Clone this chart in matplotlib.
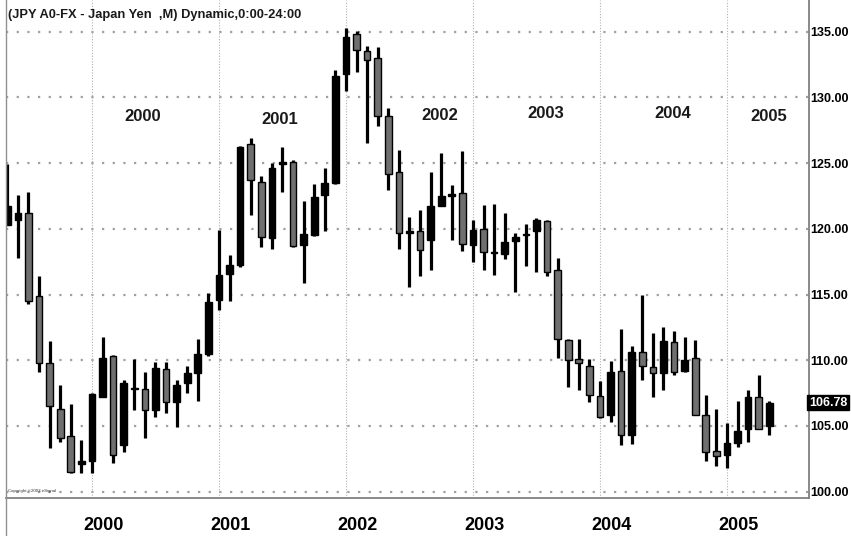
import matplotlib
matplotlib.use("Agg")
import matplotlib.pyplot as plt
from matplotlib.transforms import blended_transform_factory

# ---- data: monthly USD/JPY candles, May 1999 .. May 2005 ----
months = ['1999-05', '1999-06', '1999-07', '1999-08', '1999-09', '1999-10', '1999-11', '1999-12',
          '2000-01', '2000-02', '2000-03', '2000-04', '2000-05', '2000-06', '2000-07', '2000-08',
          '2000-09', '2000-10', '2000-11', '2000-12',
          '2001-01', '2001-02', '2001-03', '2001-04', '2001-05', '2001-06', '2001-07', '2001-08',
          '2001-09', '2001-10', '2001-11', '2001-12',
          '2002-01', '2002-02', '2002-03', '2002-04', '2002-05', '2002-06', '2002-07', '2002-08',
          '2002-09', '2002-10', '2002-11', '2002-12',
          '2003-01', '2003-02', '2003-03', '2003-04', '2003-05', '2003-06', '2003-07', '2003-08',
          '2003-09', '2003-10', '2003-11', '2003-12',
          '2004-01', '2004-02', '2004-03', '2004-04', '2004-05', '2004-06', '2004-07', '2004-08',
          '2004-09', '2004-10', '2004-11', '2004-12',
          '2005-01', '2005-02', '2005-03', '2005-04', '2005-05']

opens = [120.3, 120.7, 121.2, 114.9, 109.8, 106.3, 104.2, 102.1,
         102.3, 107.2, 110.35, 103.55, 107.8, 107.8, 106.2, 109.3,
         106.8, 108.25, 109.0, 110.5,
         114.6, 116.6, 117.25, 126.45, 123.6, 119.3, 124.9, 125.1,
         118.8, 119.55, 122.6, 123.5,
         131.8, 134.8, 133.5, 133.0, 128.6, 124.3, 119.7, 119.85,
         119.15, 121.7, 122.5, 122.7,
         118.8, 120.0, 118.15, 118.1, 119.1, 119.5, 119.84, 120.6,
         116.9, 111.55, 110.1, 109.6,
         107.3, 105.85, 109.2, 104.3, 110.65, 109.5, 109.0, 111.4,
         109.2, 110.15, 105.85, 103.1,
         102.8, 103.7, 104.75, 107.2, 105.0]

highs = [124.9, 122.6, 122.8, 116.4, 111.5, 108.1, 106.7, 103.9,
         107.5, 111.8, 110.4, 108.5, 110.1, 109.1, 109.9, 109.85,
         108.5, 109.6, 111.6, 115.15,
         119.9, 118.0, 126.3, 126.9, 124.05, 125.0, 126.2, 125.25,
         122.15, 123.4, 124.65, 132.1,
         135.25, 135.06, 133.9, 133.85, 129.2, 126.0, 120.9, 121.4,
         124.3, 125.8, 123.3, 125.9,
         120.7, 121.8, 121.9, 121.2, 119.7, 120.35, 120.8, 120.7,
         117.8, 111.6, 111.6, 110.1,
         108.4, 109.95, 112.4, 111.1, 114.95, 112.1, 112.55, 112.2,
         111.8, 111.55, 107.35, 106.3,
         105.25, 106.9, 107.7, 108.9, 106.9]

lows = [120.3, 117.8, 114.3, 109.1, 103.3, 103.8, 101.4, 101.45,
        101.4, 107.2, 102.2, 103.0, 106.2, 104.1, 105.7, 106.0,
        104.9, 107.5, 106.9, 110.3,
        113.8, 114.5, 117.1, 121.05, 118.65, 118.45, 122.8, 118.65,
        115.9, 119.45, 119.8, 123.4,
        130.5, 131.96, 126.5, 127.8, 122.95, 118.5, 115.6, 116.4,
        116.9, 121.7, 119.15, 118.3,
        117.5, 116.9, 116.5, 117.7, 115.2, 117.2, 116.7, 116.4,
        110.2, 107.95, 107.7, 106.85,
        105.6, 105.3, 103.55, 103.6, 108.5, 107.2, 107.7, 108.9,
        109.1, 105.85, 102.3, 101.95,
        101.8, 103.4, 103.75, 104.75, 104.3]

closes = [121.7, 121.2, 114.5, 109.8, 106.5, 104.1, 101.5, 102.3,
          107.4, 110.2, 102.8, 108.3, 107.9, 106.2, 109.4, 106.8,
          108.1, 109.05, 110.5, 114.4,
          116.5, 117.25, 126.25, 123.7, 119.4, 124.6, 125.05, 118.7,
          119.6, 122.45, 123.5, 131.6,
          134.6, 133.6, 132.85, 128.6, 124.2, 119.65, 119.85, 118.4,
          121.7, 122.5, 122.6, 118.85,
          119.9, 118.2, 118.25, 119.0, 119.36, 119.6, 120.7, 116.7,
          111.6, 110.0, 109.8, 107.35,
          105.7, 109.1, 104.3, 110.65, 109.55, 109.0, 111.5, 109.1,
          110.0, 105.85, 103.0, 102.7,
          103.7, 104.65, 107.2, 104.75, 106.78]

years = ['2000', '2001', '2002', '2003', '2004', '2005']
price_ticks = [100, 105, 110, 115, 120, 125, 130, 135]
last_price = 106.78
title = "(JPY A0-FX - Japan Yen  ,M) Dynamic,0:00-24:00"

# ---- figure ----
plt.rcParams['font.family'] = ['Liberation Sans', 'DejaVu Sans']
fig = plt.figure(figsize=(8.51, 5.36), dpi=100)
fig.patch.set_facecolor('white')
W, H = 851, 536
ax = fig.add_axes([6 / W, (H - 498) / H, (809 - 6) / W, 498 / H])

xs = list(range(len(months)))
jan_idx = [i for i, m in enumerate(months) if m.endswith('-01')]

UP = 'black'
DOWN = '#6f6f6f'

# grid
for v in price_ticks:
    ax.axhline(v, color='#a0a0a0', lw=1.6, dashes=(1, 3.8), zorder=0)
for j in jan_idx:
    ax.axvline(j, color='#b0b0b0', lw=0.8, dashes=(1, 1.5), zorder=0)

# candles
ax.vlines(xs, lows, highs, color='black', lw=2.3, zorder=2)
bottoms = [min(o, c) for o, c in zip(opens, closes)]
heights = [max(abs(c - o), 0.12) for o, c in zip(opens, closes)]
colors = [UP if c >= o else DOWN for o, c in zip(opens, closes)]
ax.bar(xs, heights, bottom=bottoms, width=0.63, color=colors,
       edgecolor='black', linewidth=1.0, zorder=3)

ax.set_xlim(-0.126, 75.75)
ax.set_ylim(99.52, 137.41)

# axes styling
for s in ['top', 'left']:
    ax.spines[s].set_visible(False)
ax.spines['right'].set_color('#808080')
ax.spines['right'].set_linewidth(1.3)
ax.spines['bottom'].set_color('#808080')
ax.spines['bottom'].set_linewidth(1.3)

ax.yaxis.tick_right()
ax.set_yticks(price_ticks)
ax.set_yticklabels([f"{v:.2f}" for v in price_ticks], fontsize=9, fontweight='bold')
ax.tick_params(axis='y', length=0, pad=1)

ax.set_xticks(jan_idx)
ax.set_xticklabels([])
ax.set_xticks([j + 1.1 for j in jan_idx], minor=True)
ax.set_xticklabels(years, minor=True, fontsize=13, fontweight='bold')
ax.tick_params(axis='x', which='both', length=0)
ax.tick_params(axis='x', which='minor', pad=14)

# last price tag
ax.text(1.0, last_price, f"{last_price:.2f}", transform=blended_transform_factory(ax.transAxes, ax.transData),
        ha='left', va='center', fontsize=9, fontweight='bold', color='white',
        bbox=dict(boxstyle='square,pad=0.12', fc='black', ec='black'), clip_on=False)

# in-plot year labels
year_pos = [(12.79, 128.53), (25.77, 128.28), (40.88, 128.6), (50.87, 128.76), (62.9, 128.74), (71.9, 128.53)]
for yl, (xi, yv) in zip(years, year_pos):
    ax.text(xi, yv, yl, ha='center', va='center', fontsize=12, fontweight='bold', color='#1a1a1a')

# title and copyright
fig.text(8 / W, 1 - 15 / H, title, ha='left', va='center', fontsize=9.3, fontweight='bold', color='#1a1a1a')
fig.text(8 / W, 1 - 491 / H, "Copyright \u00a92003 eSignal", ha='left', va='center', fontsize=3.2, color='#333333')

# left frame line of the chart window
fig.add_artist(plt.Line2D([6 / W, 6 / W], [0, 1], color='#909090', lw=1.0))

fig.savefig('out.png', dpi=100, facecolor='white')
